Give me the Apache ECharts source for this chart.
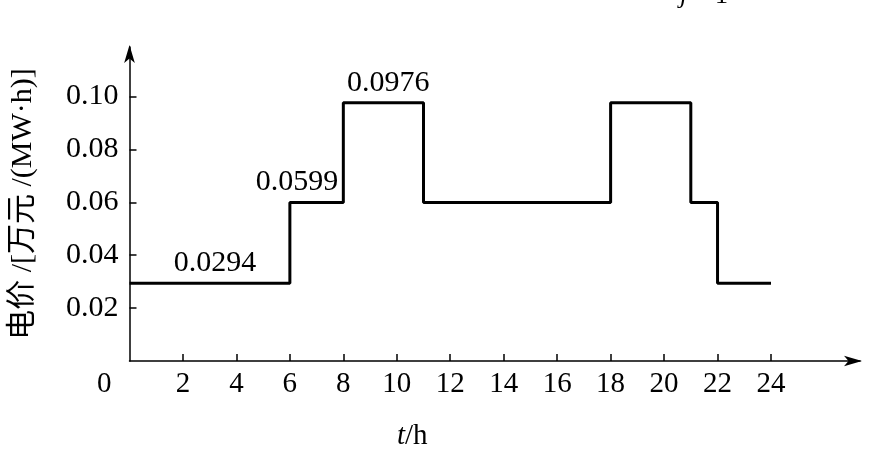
<!DOCTYPE html>
<html>
<head>
<meta charset="utf-8">
<script src="https://cdn.jsdelivr.net/npm/echarts@6/dist/echarts.min.js"></script>
<style>
  html, body { margin: 0; padding: 0; background: #fff; }
  #chart { width: 876px; height: 452px; }
</style>
</head>
<body>
<div id="chart"></div>
<script>
// step start times (h) and price held from each one
var hours = [0, 6, 8, 11, 18, 21, 22, 24]
var prices = [0.0294, 0.0599, 0.0976, 0.0599, 0.0976, 0.0599, 0.0294, 0.0294]
var xTicks = [2, 4, 6, 8, 10, 12, 14, 16, 18, 20, 22, 24]
var yTicks = [0.02, 0.04, 0.06, 0.08, 0.10]
// annotated prices and where their labels sit along t
var labelHours = [3.2, 6.27, 9.68]
var labelPrices = [0.0294, 0.0599, 0.0976]

var serif = '"Liberation Serif", "Times New Roman", "Noto Sans CJK SC", serif'

var chart = echarts.init(document.getElementById('chart'), null, { renderer: 'canvas' })

chart.setOption({
  backgroundColor: '#fff',
  animation: false,
  grid: { left: 129.5, right: 16, top: 47, bottom: 91, outerBoundsMode: 'none', containLabel: false },
  xAxis: {
    type: 'value',
    min: 0,
    max: 27.33,
    axisLine: {
      lineStyle: { color: '#000', width: 1.5 },
      symbol: ['none', 'arrow'],
      symbolSize: [8, 18],
      symbolOffset: [0, 2]
    },
    axisTick: {
      inside: true,
      length: 7,
      customValues: xTicks,
      lineStyle: { color: '#000', width: 1.5 }
    },
    axisLabel: {
      customValues: xTicks,
      color: '#000',
      fontFamily: serif,
      fontSize: 29,
      margin: 9
    },
    splitLine: { show: false }
  },
  yAxis: {
    type: 'value',
    min: 0,
    max: 0.1187,
    name: '电价 /[万元 /(MW·h)]',
    nameLocation: 'middle',
    nameRotate: 90,
    nameGap: 91,
    nameTextStyle: { color: '#000', fontFamily: serif, fontSize: 30 },
    axisLine: {
      lineStyle: { color: '#000', width: 1.5 },
      symbol: ['none', 'arrow'],
      symbolSize: [8, 18],
      symbolOffset: [0, 2]
    },
    axisTick: {
      inside: true,
      length: 7,
      customValues: yTicks,
      lineStyle: { color: '#000', width: 1.5 }
    },
    axisLabel: {
      customValues: yTicks,
      color: '#000',
      fontFamily: serif,
      fontSize: 30,
      margin: 11,
      formatter: function (v) { return v.toFixed(2) }
    },
    splitLine: { show: false }
  },
  series: [
    {
      type: 'line',
      step: 'end',
      symbol: 'none',
      lineStyle: { color: '#000', width: 3 },
      data: hours.map(function (h, i) { return [h, prices[i]] })
    },
    {
      type: 'scatter',
      symbolSize: 0,
      silent: true,
      itemStyle: { color: '#000', opacity: 1 },
      label: {
        show: true,
        position: 'top',
        distance: 5,
        color: '#000',
        opacity: 1,
        fontFamily: serif,
        fontSize: 30,
        formatter: function (p) { return p.value[1].toFixed(4) }
      },
      data: labelHours.map(function (h, i) { return [h, labelPrices[i]] })
    }
  ],
  graphic: [
    {
      type: 'text',
      left: 97,
      top: 370,
      style: { text: '0', fill: '#000', font: '29px ' + serif }
    },
    {
      type: 'text',
      left: 397,
      top: 422,
      style: {
        text: '{i|t}/h',
        fill: '#000',
        font: '29px ' + serif,
        rich: { i: { fontStyle: 'italic', fontFamily: serif, fontSize: 29 } }
      }
    },
    {
      type: 'text',
      left: 680,
      top: -17,
      style: {
        text: '{i|j} = 1',
        fill: '#000',
        font: '26px ' + serif,
        rich: { i: { fontStyle: 'italic', fontFamily: serif, fontSize: 26 } }
      }
    }
  ]
})
</script>
</body>
</html>
